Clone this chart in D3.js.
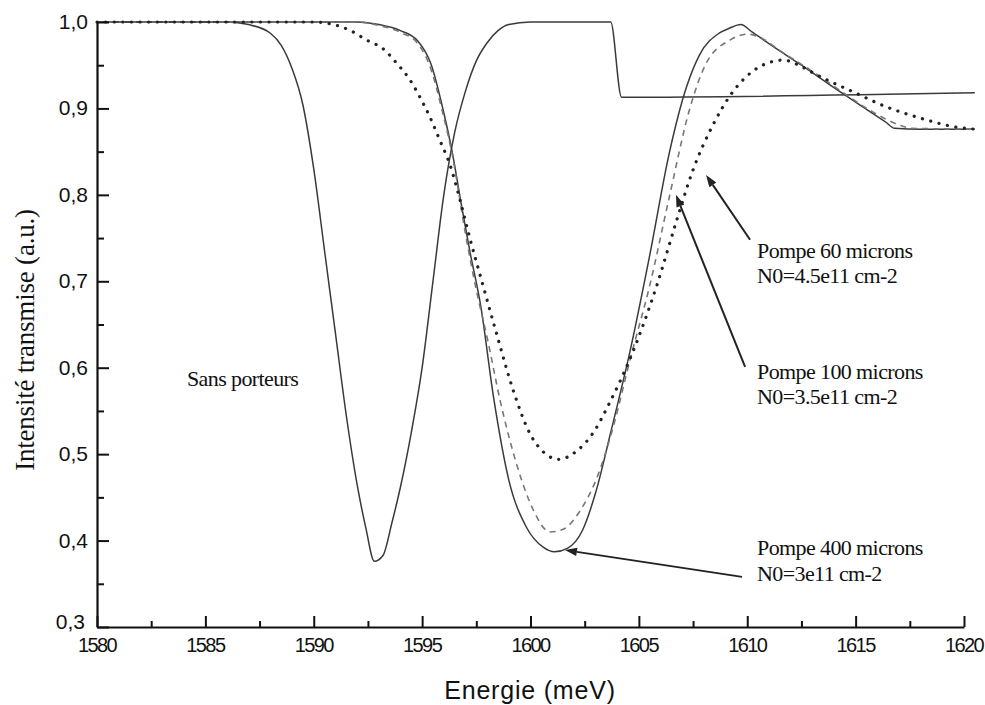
<!DOCTYPE html>
<html><head><meta charset="utf-8">
<script src="https://cdn.jsdelivr.net/npm/d3@7"></script>
<style>body{margin:0;background:#fff}svg{display:block}</style>
</head><body>
<svg id="c" width="985" height="705"></svg>
<script>
// ---------- data ----------
const xTicks = [1580, 1585, 1590, 1595, 1600, 1605, 1610, 1615, 1620];
const xTickLabels = ["1580", "1585", "1590", "1595", "1600", "1605", "1610", "1615", "1620"];
const xMinor = [1582.5, 1587.5, 1592.5, 1597.5, 1602.5, 1607.5, 1612.5, 1617.5];
const yTicks = [0.3, 0.4, 0.5, 0.6, 0.7, 0.8, 0.9, 1.0];
const yTickLabels = ["0,3", "0,4", "0,5", "0,6", "0,7", "0,8", "0,9", "1,0"];
const yMinor = [0.35, 0.45, 0.55, 0.65, 0.75, 0.85, 0.95];

const sansPorteurs = [[1580,1.0],[1586,1.0],[1587,0.997],[1588,0.987],[1588.5,0.973],[1589,0.946],[1589.5,0.904],[1590,0.83],[1590.5,0.735],[1591,0.64],[1591.5,0.545],[1592,0.465],[1592.4,0.415],[1592.8,0.376],[1593.2,0.383],[1593.6,0.42],[1594,0.462],[1594.5,0.525],[1595,0.6],[1595.5,0.7],[1596,0.8],[1596.5,0.872],[1597,0.92],[1597.5,0.955],[1598,0.976],[1598.5,0.99],[1599,0.997],[1600,1.0],[1603.7,1.0],[1604.2,0.913],[1620.5,0.918]];

const pompe400 = [[1580,1.0],[1592,1.0],[1593,0.997],[1594,0.99],[1594.8,0.978],[1595.4,0.952],[1596,0.895],[1596.4,0.848],[1596.8,0.79],[1597.2,0.735],[1597.7,0.672],[1598.3,0.565],[1599,0.47],[1599.8,0.416],[1600.6,0.392],[1601.1,0.387],[1601.7,0.391],[1602.4,0.412],[1603,0.455],[1603.7,0.525],[1604.6,0.62],[1605.5,0.73],[1606.4,0.848],[1607.2,0.925],[1607.8,0.962],[1608.7,0.987],[1609.2,0.993],[1609.7,0.997],[1610.2,0.989],[1611,0.975],[1612.5,0.95],[1614,0.924],[1615.5,0.899],[1616.4,0.884],[1616.8,0.877],[1618,0.876],[1620.5,0.876]];

const pompe100 = [[1580,1.0],[1592,1.0],[1593,0.996],[1594,0.988],[1594.8,0.975],[1595.4,0.946],[1595.9,0.9],[1596.4,0.845],[1597,0.755],[1597.5,0.69],[1598,0.635],[1598.6,0.562],[1599.4,0.485],[1600.1,0.437],[1600.9,0.41],[1601.5,0.413],[1602.3,0.435],[1603.1,0.475],[1603.8,0.53],[1604.6,0.61],[1605.5,0.695],[1606.4,0.797],[1607.35,0.9],[1608.1,0.952],[1609.2,0.979],[1610,0.986],[1610.6,0.982],[1611.5,0.967],[1613,0.943],[1614.5,0.917],[1615.65,0.898],[1617,0.881],[1617.6,0.877],[1620.5,0.876]];

const pompe60 = [[1580,1.0],[1590,1.0],[1590.75,0.998],[1591.7,0.99],[1592.45,0.979],[1593.2,0.969],[1593.84,0.952],[1594.44,0.933],[1594.9,0.913],[1595.36,0.89],[1595.82,0.863],[1596.28,0.835],[1596.74,0.795],[1597.2,0.75],[1597.7,0.705],[1598.45,0.638],[1599.2,0.574],[1599.97,0.524],[1600.66,0.501],[1601.3,0.494],[1602.1,0.503],[1602.9,0.525],[1603.66,0.56],[1604.7,0.617],[1605.8,0.693],[1606.75,0.771],[1607.5,0.829],[1608.4,0.88],[1609.3,0.918],[1610.2,0.942],[1611,0.953],[1611.7,0.956],[1612.2,0.952],[1613.35,0.937],[1614.9,0.919],[1616.4,0.902],[1617.96,0.889],[1619.5,0.879],[1620.5,0.876]];

// annotation texts (anchored in data units)
const labelTexts = ["Sans porteurs", "Pompe 60 microns", "N0=4.5e11 cm-2", "Pompe 100 microns", "N0=3.5e11 cm-2", "Pompe 400 microns", "N0=3e11 cm-2"];
const labelAnchors = [[1584.15,0.579],[1610.45,0.727],[1610.45,0.698],[1610.45,0.587],[1610.45,0.558],[1610.45,0.383],[1610.45,0.353]];
// arrows: [tailE, tailT, tipE, tipT]
const arrows = [[1610.13,0.748,1608.1,0.823],[1609.9,0.601,1606.71,0.80],[1609.76,0.358,1601.59,0.389]];

// ---------- drawing ----------
const svg = d3.select("#c");
const x = d3.scaleLinear().domain([1580, 1620]).range([97, 964]);
const y = d3.scaleLinear().domain([0.3, 1.0]).range([627, 22]);

svg.append("rect").attr("width", 985).attr("height", 705).attr("fill", "#fff");

const line = d3.line().x(d => x(d[0])).y(d => y(d[1])).curve(d3.curveMonotoneX);

const series = [
  {data: sansPorteurs, stroke: "#3a3a3a", width: 1.5, dash: null, cap: "butt"},
  {data: pompe400, stroke: "#3a3a3a", width: 1.5, dash: null, cap: "butt"},
  {data: pompe100, stroke: "#777", width: 1.6, dash: "6,5", cap: "butt"},
  {data: pompe60, stroke: "#222", width: 3.2, dash: "0.1,8.5", cap: "round"}
];
series.forEach(s => {
  svg.append("path").datum(s.data).attr("d", line)
    .attr("fill", "none").attr("stroke", s.stroke).attr("stroke-width", s.width)
    .attr("stroke-dasharray", s.dash).attr("stroke-linecap", s.cap).attr("stroke-linejoin", "round");
});

// axes
const gx = svg.append("g").attr("transform", "translate(0,627)");
gx.call(d3.axisBottom(x).tickValues(xTicks).tickSizeInner(-11).tickSizeOuter(0).tickFormat(""));
gx.append("g").call(d3.axisBottom(x).tickValues(xMinor).tickSizeInner(-6).tickSizeOuter(0).tickFormat(""))
  .select(".domain").remove();
const gy = svg.append("g").attr("transform", "translate(97,0)");
gy.call(d3.axisLeft(y).tickValues(yTicks).tickSizeInner(-12).tickSizeOuter(0).tickFormat(""));
gy.append("g").call(d3.axisLeft(y).tickValues(yMinor).tickSizeInner(-7).tickSizeOuter(0).tickFormat(""))
  .select(".domain").remove();
svg.selectAll(".domain").attr("stroke", "#111").attr("stroke-width", 2.2);
svg.selectAll(".tick line").attr("stroke", "#111").attr("stroke-width", 2);

// tick labels
svg.append("g").selectAll("text").data(xTicks).join("text")
  .attr("x", d => x(d)).attr("y", 652).attr("text-anchor", "middle")
  .attr("font-family", "Liberation Sans, Arial, sans-serif").attr("font-size", 20)
  .attr("letter-spacing", -1.6).attr("fill", "#111")
  .text((d, i) => xTickLabels[i]);
svg.append("g").selectAll("text").data(yTicks).join("text")
  .attr("x", (d, i) => i === 0 ? 85 : 88).attr("y", (d, i) => y(d) + (i === 0 ? 2 : 7)).attr("text-anchor", "end")
  .attr("font-family", "Liberation Sans, Arial, sans-serif").attr("font-size", 21)
  .attr("fill", "#111")
  .text((d, i) => yTickLabels[i]);

// axis titles
svg.append("text").attr("x", 530).attr("y", 699).attr("text-anchor", "middle")
  .attr("font-family", "Liberation Sans, Arial, sans-serif").attr("font-size", 25)
  .attr("letter-spacing", 0.8).attr("fill", "#111").text("Energie (meV)");
svg.append("text").attr("transform", "translate(34,340) rotate(-90)").attr("text-anchor", "middle")
  .attr("font-family", "Liberation Serif, Times New Roman, serif").attr("font-size", 27)
  .attr("letter-spacing", -0.2).attr("fill", "#111").text("Intensité transmise (a.u.)");

// annotations
svg.append("g").selectAll("text").data(labelTexts).join("text")
  .attr("x", (d, i) => x(labelAnchors[i][0])).attr("y", (d, i) => y(labelAnchors[i][1]))
  .attr("font-family", "Liberation Serif, Times New Roman, serif").attr("font-size", 22)
  .attr("letter-spacing", -0.6).attr("fill", "#111").text(d => d);

// arrows
arrows.forEach(a => {
  const x1 = x(a[0]), y1 = y(a[1]), x2 = x(a[2]), y2 = y(a[3]);
  const ang = Math.atan2(y2 - y1, x2 - x1);
  const L = 12, W = 4.2;
  const bx = x2 - L * Math.cos(ang), by = y2 - L * Math.sin(ang);
  svg.append("line").attr("x1", x1).attr("y1", y1).attr("x2", bx).attr("y2", by)
    .attr("stroke", "#222").attr("stroke-width", 2);
  const px = -Math.sin(ang) * W, py = Math.cos(ang) * W;
  svg.append("path").attr("d", `M${x2},${y2}L${bx + px},${by + py}L${bx - px},${by - py}Z`)
    .attr("fill", "#222");
});
</script>
</body></html>
